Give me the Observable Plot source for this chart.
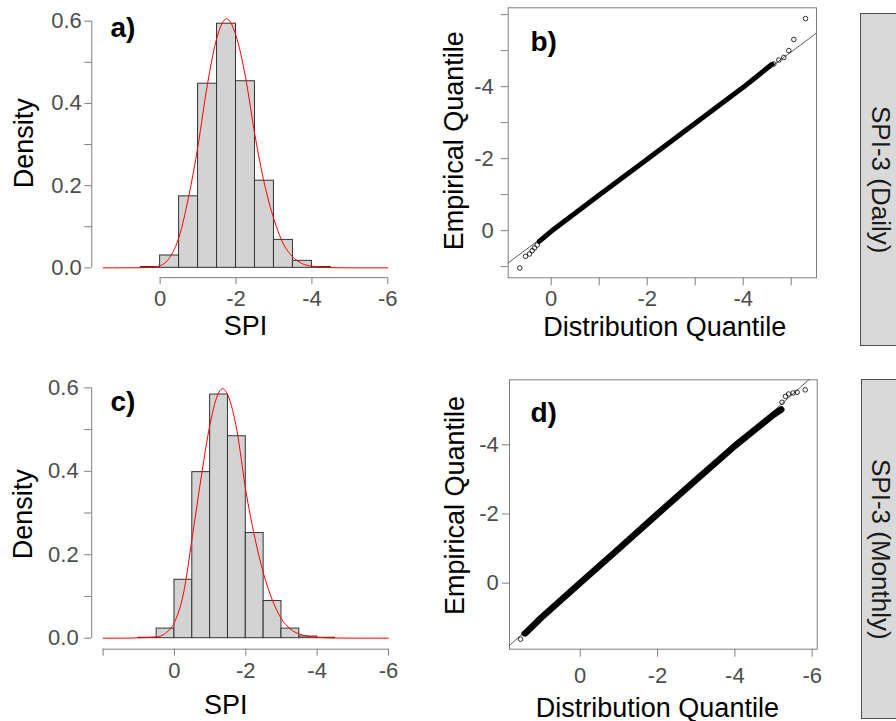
<!DOCTYPE html>
<html>
<head>
<meta charset="utf-8">
<script src="https://cdn.jsdelivr.net/npm/d3@7"></script>
<script src="https://cdn.jsdelivr.net/npm/@observablehq/plot@0.6"></script>
<style>
  body { margin: 0; background: #fff; }
  #fig { position: relative; width: 896px; height: 721px; overflow: hidden; background: #fff; font-family: "Liberation Sans", Arial, sans-serif; }
  .panel { position: absolute; }
  .strip { position: absolute; box-sizing: border-box; border: 1px solid #4d4d4d; border-right: none; background: #d9d9d9; display: flex; align-items: center; justify-content: center; }
  .strip span { writing-mode: vertical-rl; font-size: 26px; line-height: 1; color: #1a1a1a; white-space: nowrap; font-family: "Liberation Sans", Arial, sans-serif; }
</style>
</head>
<body>
<div id="fig"></div>
<script>
// ---------------- DATA ----------------
// Panel a) SPI-3 daily histogram (bin edges in SPI units, as labelled on the axis)
const edgesA = [0.5, 0, -0.5, -1, -1.5, -2, -2.5, -3, -3.5, -4, -4.5];
const densA  = [0.002, 0.030, 0.174, 0.448, 0.594, 0.454, 0.212, 0.068, 0.017, 0.002];
// fitted density curve a)
const curveAx = [1.5, 1, 0.5, 0.25, 0, -0.25, -0.5, -0.75, -1, -1.25, -1.5, -1.75, -2, -2.25, -2.5, -2.75, -3, -3.25, -3.5, -3.75, -4, -4.5, -5, -6];
const curveAy = [0, 0, 0.0003, 0.001, 0.005, 0.025, 0.075, 0.172, 0.298, 0.448, 0.561, 0.606, 0.565, 0.464, 0.322, 0.204, 0.118, 0.058, 0.026, 0.010, 0.004, 0.0005, 0, 0];

// Panel c) SPI-3 monthly histogram
const edgesC = [1, 0.5, 0, -0.5, -1, -1.5, -2, -2.5, -3, -3.5, -4, -4.5];
const densC  = [0.001, 0.023, 0.140, 0.398, 0.584, 0.484, 0.252, 0.089, 0.023, 0.004, 0.001];
const curveCx = [2, 1.5, 1, 0.5, 0.25, 0, -0.25, -0.5, -0.75, -1, -1.25, -1.35, -1.5, -1.75, -2, -2.25, -2.5, -2.75, -3, -3.25, -3.5, -4, -4.5, -5, -6];
const curveCy = [0, 0, 0.001, 0.003, 0.012, 0.038, 0.106, 0.242, 0.386, 0.514, 0.590, 0.598, 0.582, 0.498, 0.354, 0.242, 0.154, 0.090, 0.046, 0.022, 0.010, 0.002, 0.0005, 0, 0];

// Panel b) QQ plot daily: dense band of quantiles + isolated tail points
const bandBx = [0.25, 0, -1, -2, -3, -4, -4.6];
const bandBy = [0.30, 0.02, -0.99, -1.98, -2.98, -3.98, -4.62];
const tailBx = [0.654, 0.535, 0.452, 0.396, 0.348, 0.292, -4.638, -4.742, -4.846, -4.95, -5.054, -5.298];
const tailBy = [1.037, 0.713, 0.648, 0.556, 0.481, 0.398, -4.63, -4.74, -4.81, -5.0, -5.31, -5.89];
const qqLineB = { intercept: 0.006, slope: 0.994 };

// Panel d) QQ plot monthly
const bandDx = [1.42, 1, 0, -1, -2, -3, -4, -5, -5.2];
const bandDy = [1.45, 0.99, -0.01, -1.0, -2.0, -2.99, -3.97, -4.87, -5.02];
const tailDx = [1.544, 1.458, -5.22, -5.31, -5.39, -5.51, -5.61, -5.82];
const tailDy = [1.62, 1.46, -5.23, -5.40, -5.47, -5.50, -5.52, -5.59];
const qqLineD = { intercept: -0.015, slope: 0.992 };

// tick values / labels
const densTicks = [0, 0.1, 0.2, 0.3, 0.4, 0.5, 0.6];
const densLabels = [0, 0.2, 0.4, 0.6];
const spiTicksA = [0, -2, -4, -6];
const spiTicksC = [2, 0, -2, -4, -6];
const spiLabels = [0, -2, -4, -6];
const qqXTicksB = [0, -1, -2, -3, -4, -5];
const qqYTicksB = [1, 0, -1, -2, -3, -4, -5, -6];
const qqXLabelsB = [0, -2, -4];
const qqYLabelsB = [0, -2, -4];
const qqXTicksD = [0, -2, -4, -6];
const qqYTicksD = [0, -2, -4];
const qqXLabelsD = [0, -2, -4, -6];
const qqYLabelsD = [0, -2, -4];

const panelLetters = ["a)", "b)", "c)", "d)"];
const stripLabels = ["SPI-3 (Daily)", "SPI-3 (Monthly)"];

// ---------------- STYLE ----------------
const FONT = '"Liberation Sans", Arial, sans-serif';
const AXIS = "#7f7f7f";
const TICKLAB = "#4d4d4d";
const TICKFS = 22;

const zip = (xs, ys) => xs.map((x, i) => ({ x, y: ys[i] }));
const bins = (edges, dens) => dens.map((d, i) => ({ x1: edges[i], x2: edges[i + 1], d }));

function xLabels(values, fmt, offset) {
  return Plot.text(values, { x: d => d, text: fmt, frameAnchor: "bottom", textAnchor: "middle", lineAnchor: "top", dy: offset, fontSize: TICKFS, fill: TICKLAB });
}
function yLabels(values, fmt, offset) {
  return Plot.text(values, { y: d => d, text: fmt, frameAnchor: "left", textAnchor: "end", lineAnchor: "middle", dx: -offset, fontSize: TICKFS, fill: TICKLAB });
}

function histPanel(o) {
  return Plot.plot({
    width: o.width, height: o.height,
    marginLeft: o.ml, marginRight: o.mr, marginTop: o.mt, marginBottom: o.mb,
    x: { type: "linear", domain: o.xDomain, axis: null },
    y: { type: "linear", domain: o.yDomain, axis: null },
    style: { fontFamily: FONT, background: "transparent", overflow: "visible" },
    marks: [
      Plot.rectY(o.bins, { x1: "x1", x2: "x2", y1: 0, y2: "d", inset: 0, fill: "#d3d3d3", stroke: "#333", strokeWidth: 1 }),
      Plot.line(o.curve, { x: "x", y: "y", stroke: "#ff0000", strokeWidth: 1, curve: "monotone-x" }),
      Plot.ruleX([o.xDomain[0]], { y1: 0, y2: 0.6, stroke: AXIS, strokeWidth: 1 }),
      Plot.ruleY([o.yDomain[0]], { x1: o.xTicks[0], x2: o.xTicks[o.xTicks.length - 1], stroke: AXIS, strokeWidth: 1 }),
      Plot.axisY({ ticks: densTicks, tickFormat: null, text: null, tickSize: 7, stroke: AXIS, label: null }),
      Plot.axisX({ ticks: o.xTicks, tickFormat: null, text: null, tickSize: 7, stroke: AXIS, label: null }),
      yLabels(densLabels, d => d3.format(".1f")(d), o.yOff),
      xLabels(spiLabels, d => String(d), o.xOff),
      Plot.text(["SPI"], { text: d => d, frameAnchor: "bottom", textAnchor: "middle", lineAnchor: "bottom", dx: o.xlabDx, dy: o.xlabDy, fontSize: 27, fill: "#000" }),
      Plot.text(["Density"], { text: d => d, frameAnchor: "left", textAnchor: "middle", rotate: -90, lineAnchor: "bottom", dx: o.ylabDx, dy: 0, fontSize: 27, fill: "#000" }),
      Plot.text([o.letter], { text: d => d, frameAnchor: "top-left", textAnchor: "start", lineAnchor: "bottom", dx: o.letDx, dy: o.letDy, fontSize: 28, fontWeight: "bold", fill: "#000" })
    ]
  });
}

function qqPanel(o) {
  const [x0, x1] = o.xDomain;
  const ref = [x0, x1].map(x => ({ x, y: o.line.intercept + o.line.slope * x }));
  return Plot.plot({
    width: o.width, height: o.height,
    marginLeft: o.ml, marginRight: o.mr, marginTop: o.mt, marginBottom: o.mb,
    x: { type: "linear", domain: o.xDomain, axis: null },
    y: { type: "linear", domain: o.yDomain, axis: null },
    style: { fontFamily: FONT, background: "transparent", overflow: "visible" },
    marks: [
      Plot.frame({ stroke: AXIS, strokeWidth: 1 }),
      Plot.line(ref, { x: "x", y: "y", stroke: "#333", strokeWidth: 0.8, clip: true }),
      Plot.line(o.band, { x: "x", y: "y", stroke: "#000", strokeWidth: o.bandWidth, strokeLinecap: "round", strokeLinejoin: "round" }),
      Plot.dot(o.tail, { x: "x", y: "y", r: 2.3, stroke: "#000", strokeWidth: 0.8, fill: "none" }),
      Plot.axisX({ ticks: o.xTicks, tickFormat: null, text: null, tickSize: 8, stroke: AXIS, label: null }),
      Plot.axisY({ ticks: o.yTicks, tickFormat: null, text: null, tickSize: 7, stroke: AXIS, label: null }),
      xLabels(o.xLabels, d => String(d), o.xOff),
      yLabels(o.yLabels, d => String(d), o.yOff),
      Plot.text(["Distribution Quantile"], { text: d => d, frameAnchor: "bottom", textAnchor: "middle", lineAnchor: "bottom", dx: o.xlabDx, dy: o.xlabDy, fontSize: 27, fill: "#000" }),
      Plot.text(["Empirical Quantile"], { text: d => d, frameAnchor: "left", textAnchor: "middle", rotate: -90, lineAnchor: "bottom", dx: o.ylabDx, dy: o.ylabDy, fontSize: 27, fill: "#000" }),
      Plot.text([o.letter], { text: d => d, frameAnchor: "top-left", textAnchor: "start", lineAnchor: "bottom", dx: o.letDx, dy: o.letDy, fontSize: 28, fontWeight: "bold", fill: "#000" })
    ]
  });
}

const fig = document.getElementById("fig");
function place(node, left, top) {
  node.classList.add("panel");
  node.style.left = left + "px";
  node.style.top = top + "px";
  fig.appendChild(node);
}

place(histPanel({
  width: 430, height: 345, ml: 91.3, mr: 31.3, mt: 8.4, mb: 67.8,
  xDomain: [1.8, -6.3], yDomain: [-0.024, 0.63],
  bins: bins(edgesA, densA), curve: zip(curveAx, curveAy), xTicks: spiTicksA, xOff: 12.5, yOff: 10,
  xlabDx: 0, xlabDy: 56.8, ylabDx: -59.3, letter: panelLetters[0], letDx: 18.7, letDy: 28.1
}), 0, 0);

place(qqPanel({
  width: 430, height: 345, ml: 77.7, mr: 44, mt: 7.3, mb: 67.7,
  xDomain: [0.896, -5.527], yDomain: [1.31, -6.19], line: qqLineB,
  band: zip(bandBx, bandBy), tail: zip(tailBx, tailBy), bandWidth: 5,
  xTicks: qqXTicksB, yTicks: qqYTicksB, xLabels: qqXLabelsB, yLabels: qqYLabelsB, xOff: 12.7, yOff: 14.4,
  xlabDx: 2.4, xlabDy: 57.7, ylabDx: -45.1, ylabDy: -2, letter: panelLetters[1], letDx: 22.3, letDy: 42.7
}), 430, 0);

place(histPanel({
  width: 430, height: 361, ml: 91.2, mr: 30.6, mt: 19, mb: 72.3,
  xDomain: [2.32, -6.32], yDomain: [-0.0264, 0.62],
  bins: bins(edgesC, densC), curve: zip(curveCx, curveCy), xTicks: spiTicksC, xOff: 13, yOff: 13,
  xlabDx: -20, xlabDy: 64.3, ylabDx: -59.2, letter: panelLetters[2], letDx: 18.8, letDy: 31
}), 0, 360);

place(qqPanel({
  width: 430, height: 361, ml: 79, mr: 43.3, mt: 19.3, mb: 72.3,
  xDomain: [1.83, -6.13], yDomain: [1.91, -5.88], line: qqLineD,
  band: zip(bandDx, bandDy), tail: zip(tailDx, tailDy), bandWidth: 6.5,
  xTicks: qqXTicksD, yTicks: qqYTicksD, xLabels: qqXLabelsD, yLabels: qqYLabelsD, xOff: 18, yOff: 10.7,
  xlabDx: -6, xlabDy: 67.3, ylabDx: -46, ylabDy: -9, letter: panelLetters[3], letDx: 21, letDy: 41.7
}), 430, 360);

// strip labels (facet strips on the right; their right edge is cut by the figure edge)
[[stripLabels[0], 860, 12.7, 333.3], [stripLabels[1], 860.7, 379.3, 340]].forEach(([t, l, tp, h]) => {
  const s = document.createElement("div");
  s.className = "strip";
  s.style.left = l + "px"; s.style.top = tp + "px";
  s.style.width = (896 - l) + "px"; s.style.height = h + "px";
  s.style.paddingLeft = "4px";
  const sp = document.createElement("span");
  sp.textContent = t;
  s.appendChild(sp);
  fig.appendChild(s);
});
</script>
</body>
</html>
